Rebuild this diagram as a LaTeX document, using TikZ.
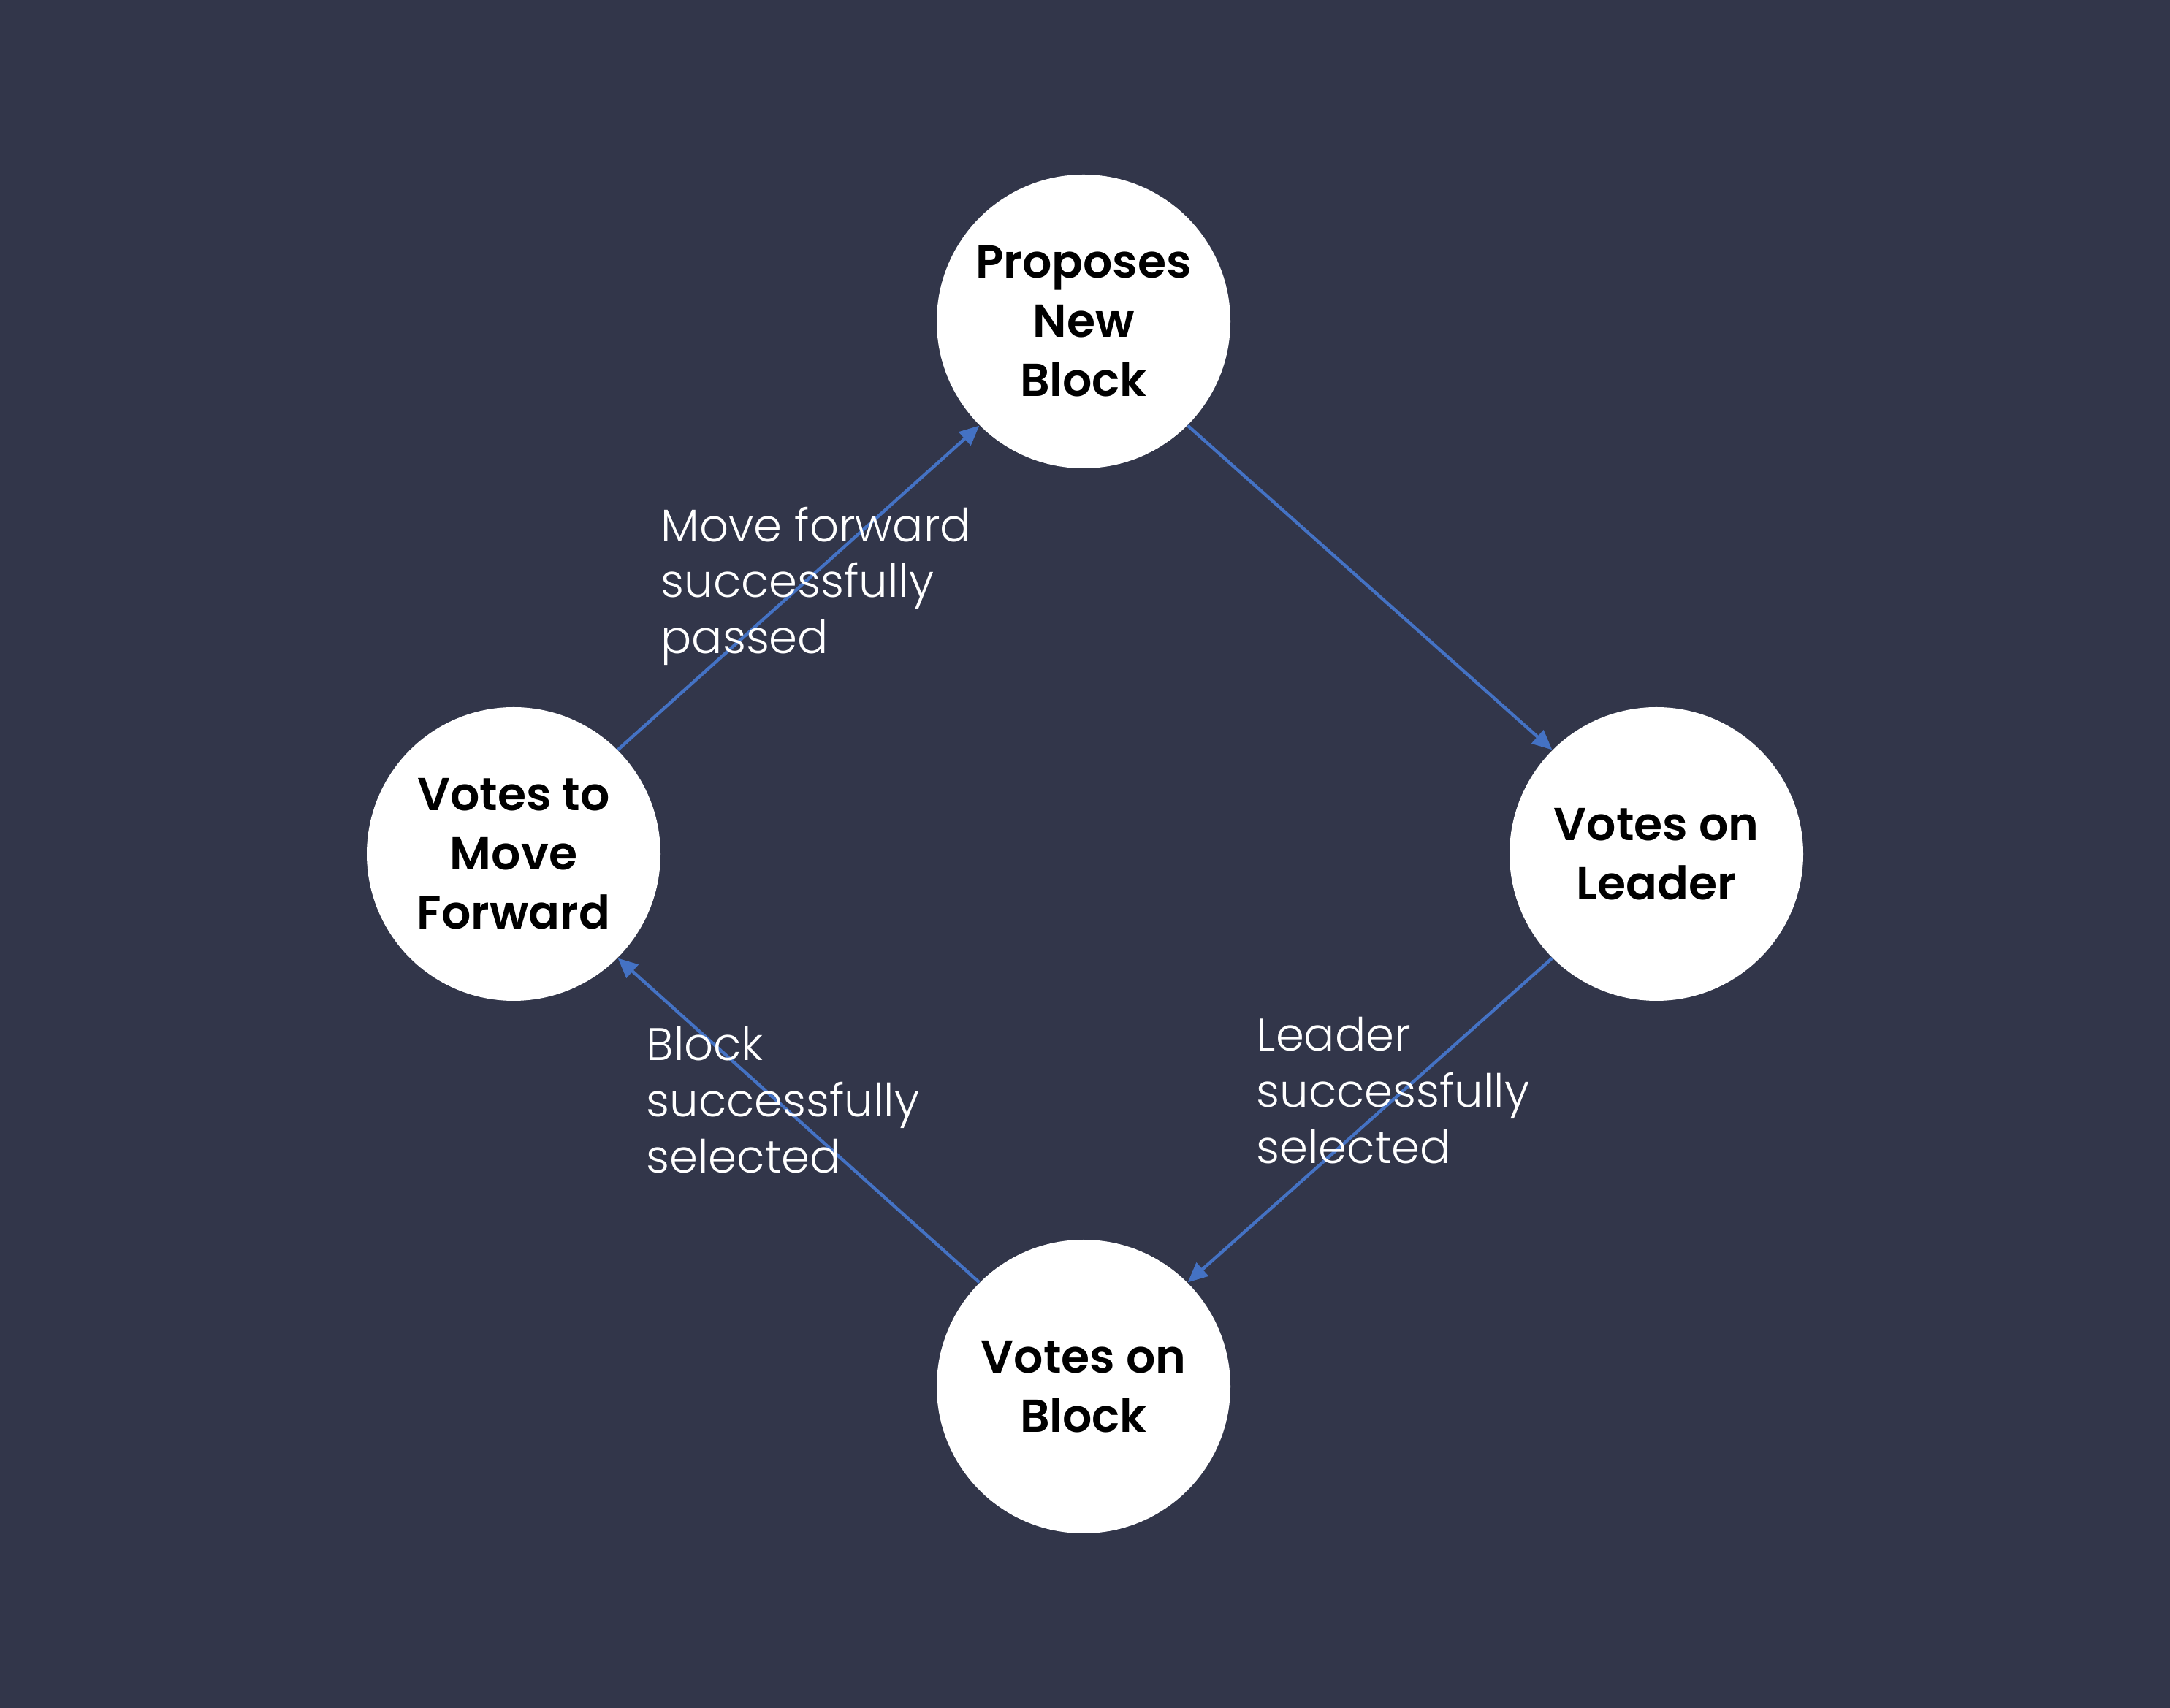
\documentclass[tikz,border=0pt]{standalone}
\usepackage{fontspec}
\setmainfont{Poppins}
\newfontfamily\lightfont{Poppins Light}
\newfontfamily\headfont{Poppins SemiBold}
\usetikzlibrary{arrows.meta}
\definecolor{bgnavy}{RGB}{50,54,74}
\definecolor{linkblue}{RGB}{68,114,196}

\begin{document}
\begin{tikzpicture}[
    >={Triangle[length=0.27cm,width=0.24cm]},
    state/.style={circle,fill=white,minimum size=4.02cm,inner sep=0pt,
        align=center,font=\headfont\fontsize{18}{23}\selectfont},
    link/.style={->,linkblue,line width=1.25pt},
    note/.style={text=white,align=left,anchor=north west,inner sep=0pt,
        font=\lightfont\fontsize{17.8}{21.8}\selectfont},
]
% Background
\fill[bgnavy] (0,0) rectangle (29.7,23.38);

% States of the round
\node[state] (propose) at (14.83,18.98) {Proposes\\New\\Block};
\node[state] (leader)  at (22.67,11.69) {Votes on\\Leader};
\node[state] (block)   at (14.83,4.40)  {Votes on\\Block};
\node[state] (forward) at (7.03,11.69)  {Votes to\\Move\\Forward};

% Transitions
\foreach \a/\b in {propose.south east/leader.north west,
                   leader.south west/block.north east,
                   block.north west/forward.south east,
                   forward.north east/propose.south west} {
    \draw[link] (\a) -- (\b);
}

% Transition notes
\node[note] (passed) at (9.04,16.45) {Move forward\\successfully\\passed};
\node[note] (leaderok) at (17.19,9.46) {Leader\\successfully\\selected};
\node[note] (blockok) at (8.84,9.33) {Block\\successfully\\selected};
\end{tikzpicture}
\end{document}
